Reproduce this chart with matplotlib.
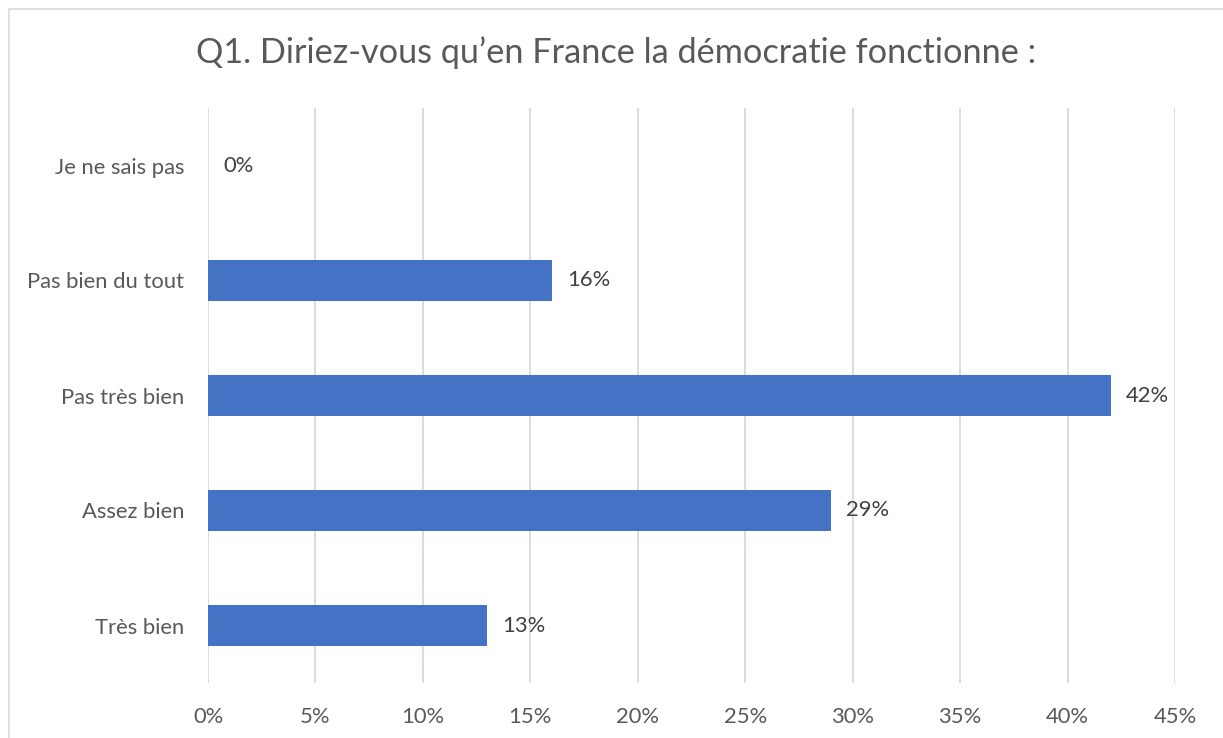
import matplotlib
matplotlib.use("Agg")
import matplotlib.pyplot as plt
from matplotlib.ticker import MultipleLocator, FuncFormatter
from matplotlib.patches import Rectangle

categories = ["Très bien", "Assez bien", "Pas très bien", "Pas bien du tout", "Je ne sais pas"]
values = [13, 29, 42, 16, 0]
title = "Q1. Diriez-vous qu\u2019en France la démocratie fonctionne :"

plt.rcParams['font.family'] = ['Lato', 'DejaVu Sans']
W, H = 1223, 738
fig = plt.figure(figsize=(W / 100, H / 100), dpi=100)
fig.patch.set_facecolor("white")

# chart border
fig.add_artist(Rectangle((9 / W, -0.05), 1.2, (H - 9) / H + 0.05, transform=fig.transFigure,
                         fill=False, edgecolor="#D9D9D9", linewidth=1.2))

left, right = 208 / W, 1175 / W
top, bottom = 1 - 108 / H, 1 - 683 / H
ax = fig.add_axes([left, bottom, right - left, top - bottom])

y = range(len(categories))
ax.barh(y, values, height=0.348, color="#4472C4", zorder=3)
ax.set_xlim(0, 45)
ax.set_ylim(-0.5, len(categories) - 0.5)
ax.xaxis.set_major_locator(MultipleLocator(5))
ax.xaxis.set_major_formatter(FuncFormatter(lambda v, p: f"{int(round(v))}%"))
ax.set_yticks(list(y))
ax.set_yticklabels(categories)
ax.grid(axis="x", color="#D9D9D9", linewidth=1.3, zorder=0)
for s in ax.spines.values():
    s.set_visible(False)
ax.tick_params(axis="both", length=0, colors="#595959", labelsize=15.8)
ax.tick_params(axis="x", pad=17)
ax.tick_params(axis="y", pad=17)

for yi, v in zip(y, values):
    ax.annotate(f"{v}%", (v, yi), xytext=(11, 0), textcoords="offset points",
                ha="left", va="center", fontsize=15.8, color="#404040")

fig.text(0.5 * (197 + 1035) / W, 1 - 53 / H, title, ha="center", va="center",
         fontsize=24.7, color="#595959")

fig.savefig("out.png", dpi=100)
